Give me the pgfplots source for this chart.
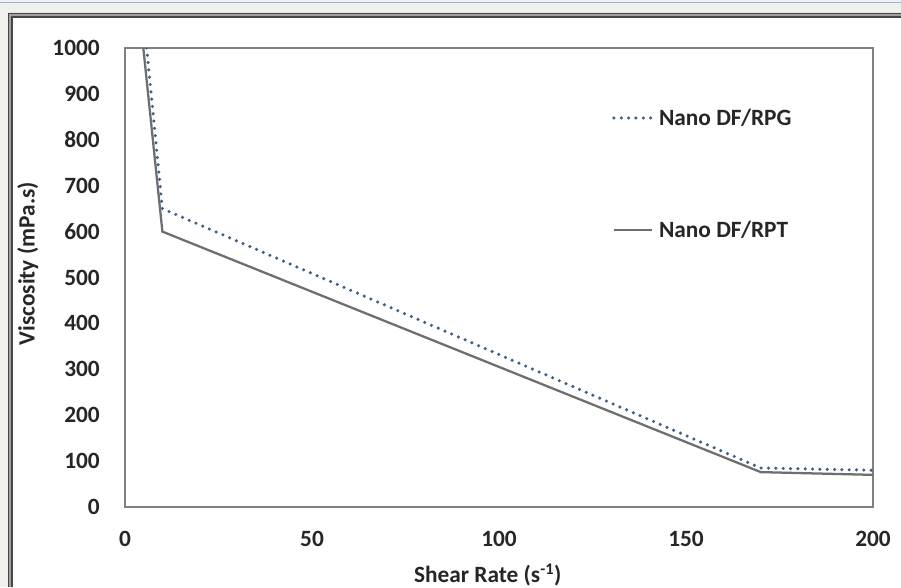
\documentclass[border=0pt]{standalone}
\usepackage{pgfplots}
\pgfplotsset{compat=1.18}
\usepackage{fontspec}
\setmainfont{Carlito}

\definecolor{bgc}{RGB}{240,240,236}
\definecolor{framec}{RGB}{160,160,160}
\definecolor{framedk}{RGB}{70,70,70}
\definecolor{topblue}{RGB}{150,180,228}
\definecolor{axgray}{RGB}{128,128,128}
\definecolor{rpgc}{RGB}{62,96,136}
\definecolor{rptc}{RGB}{110,110,110}

\begin{document}
\begin{tikzpicture}
  % 1px = 0.75pt, picture 901x587 px
  \useasboundingbox (0,0) rectangle (675.75pt,440.25pt);
  \fill[bgc] (0,0) rectangle (675.75pt,440.25pt);
  \draw[topblue, line width=1pt] (0,438.4pt) -- (675.75pt,438.4pt);
  \fill[white] (9pt,0) rectangle (675.75pt,427.5pt);
  \fill[framec] (6pt,0) -- (6pt,430.5pt) -- (675.75pt,430.5pt) -- (675.75pt,427.5pt)
        -- (9pt,427.5pt) -- (9pt,0) -- cycle;
  \draw[framedk, line width=1pt] (6.5pt,0) -- (6.5pt,430pt) -- (675.75pt,430pt);
  \draw[framedk, line width=0.8pt] (9pt,0) -- (9pt,427.5pt) -- (675.75pt,427.5pt);

  \begin{axis}[
      at={(93.75pt,60pt)}, anchor=south west,
      scale only axis,
      width=561pt, height=344.25pt,
      xmin=0, xmax=200, ymin=0, ymax=1000,
      xtick={0,50,...,200},
      ytick={0,100,...,1000},
      /pgf/number format/1000 sep={},
      major tick length=0pt,
      axis line style={axgray, line width=1.2pt},
      font=\fontsize{17.5}{21}\selectfont\bfseries,
      /pgf/number format/assume math mode=true,
      yticklabel style={anchor=east, inner sep=0pt, xshift=-18.75pt, text=black!85},
      xticklabel style={anchor=center, inner sep=0pt, yshift=-24pt, text=black!85},
      xlabel={Shear Rate (s\textsuperscript{-1})},
      ylabel={Viscosity (mPa.s)},
      xlabel style={at={(axis description cs:0.485,-0.148)}, anchor=center, inner sep=0pt, text=black!85},
      ylabel style={at={(axis description cs:-0.13,0.53)}, anchor=center, inner sep=0pt, text=black!85},
      legend cell align=left,
      legend style={
        draw=none, fill=none,
        at={(axis description cs:0.651,0.7255)}, anchor=west,
        inner sep=0pt,
        nodes={inner sep=0pt, text depth=0pt, text height=11pt, text=black!85},
        row sep=73pt, column sep=4pt,
      },
      legend image code/.code={\draw[#1] (0pt,0pt) -- (28.5pt,0pt);},
    ]
    \addplot[rpgc, line width=2.6pt, dash pattern=on 0pt off 5.5pt, line cap=round]
      coordinates {(5.8,1000) (10,650) (170,85) (200,80)};
    \addlegendentry{Nano DF/RPG}
    \addplot[rptc, line width=1.7pt]
      coordinates {(4.9,1000) (10,600) (170,76) (200,70)};
    \addlegendentry{Nano DF/RPT}
  \end{axis}
\end{tikzpicture}
\end{document}
